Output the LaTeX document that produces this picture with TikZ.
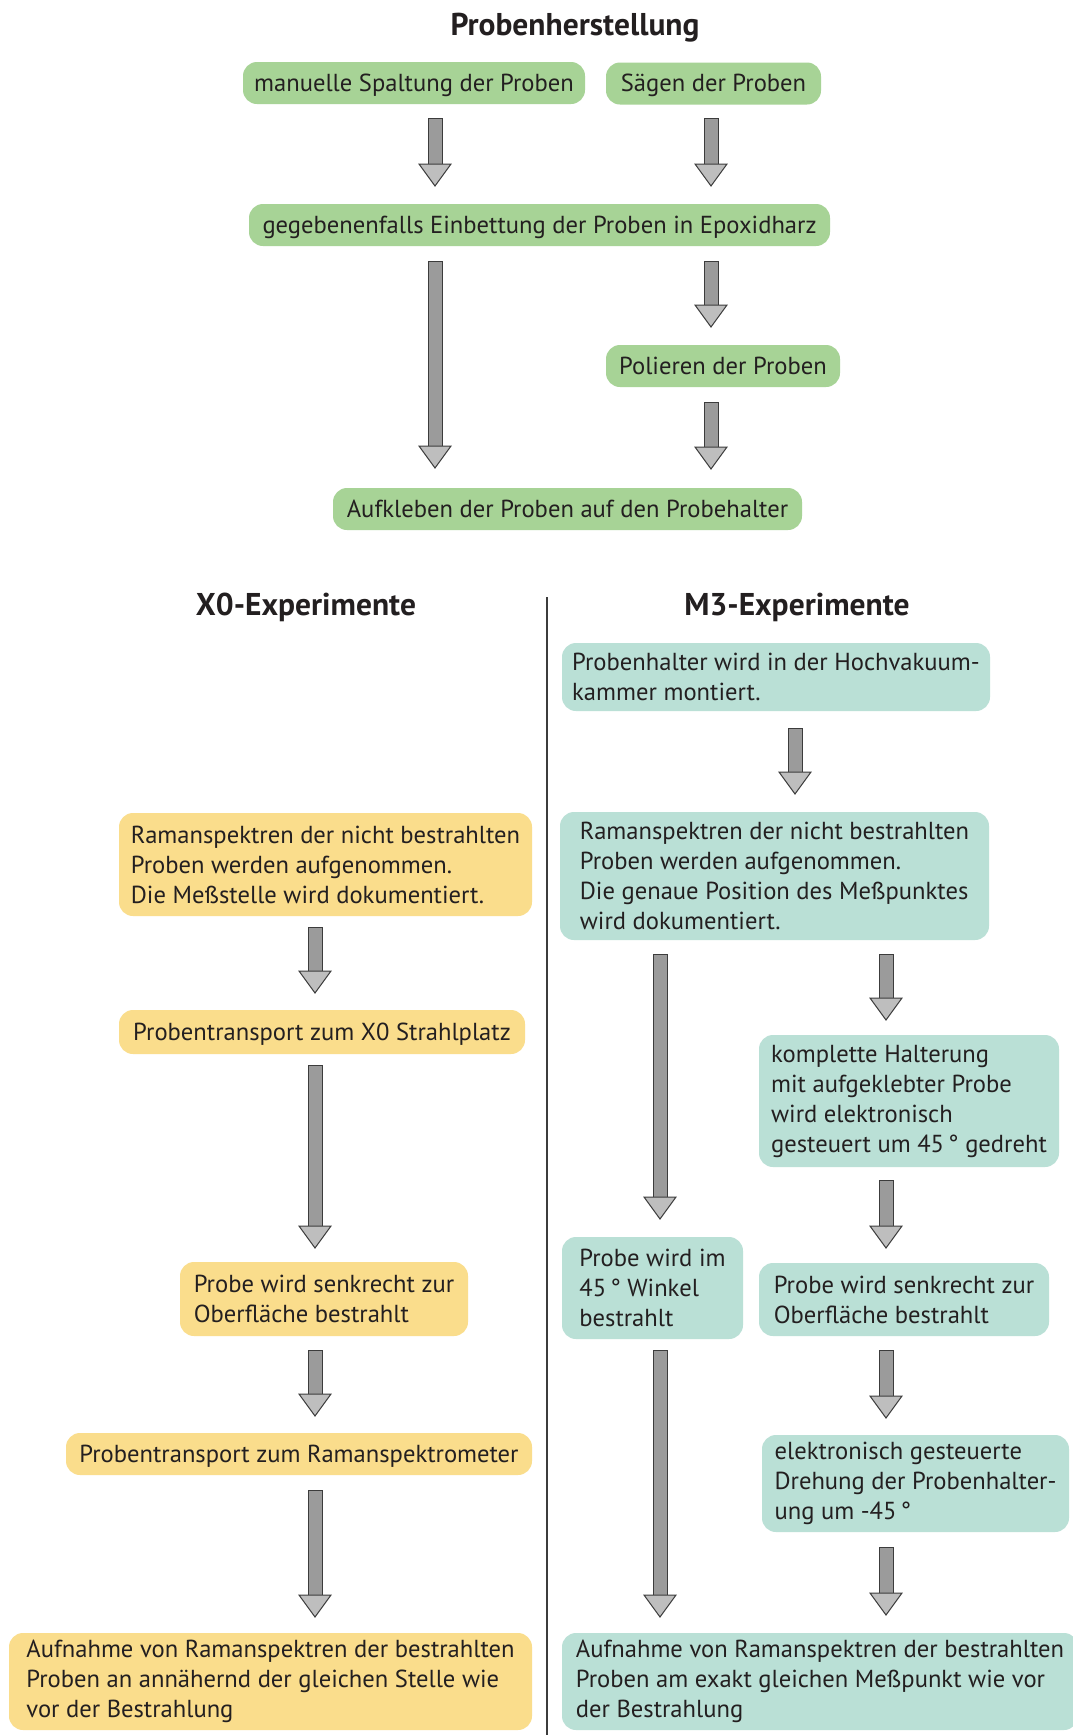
\documentclass[tikz,border=0pt]{standalone}
\usepackage{fontspec}
\setmainfont{PT Sans}
\usetikzlibrary{calc}
\definecolor{gfill}{RGB}{167,211,150}
\definecolor{yfill}{RGB}{250,221,140}
\definecolor{tfill}{RGB}{186,224,214}
\definecolor{txt}{RGB}{35,31,32}
\definecolor{arrline}{RGB}{60,60,60}
\definecolor{shaftgray}{RGB}{155,155,155}
\definecolor{headgray}{RGB}{190,190,190}
\tikzset{
  box/.style={rounded corners=14pt, inner sep=0pt, align=left, text=txt,
    font=\fontsize{24.6}{30}\selectfont},
  oneline/.style={text height=19pt, text depth=3pt},
  gbox/.style={box, oneline, fill=gfill},
  ybox/.style={box, fill=yfill},
  tbox/.style={box, fill=tfill},
  ttl/.style={text=txt, font=\fontsize{31.5}{34}\selectfont\bfseries},
  shaft/.style={draw=arrline, fill=shaftgray, line width=1pt},
  headtip/.style={draw=arrline, fill=headgray, line width=1pt, line join=miter},
}
\newcommand\fatarrow[2]{%
  \draw[shaft] let \p1=(#1), \p2=(#2) in (\x1-7pt,\y1) rectangle (\x1+7pt,\y2+21pt);
  \draw[headtip] let \p1=(#1), \p2=(#2) in (\x1-16pt,\y2+22pt) -- (\x1+16pt,\y2+22pt) -- (\x1,\y2) -- cycle;}
\begin{document}
\begin{tikzpicture}[x=1pt,y=-1pt]
\useasboundingbox[fill=white] (0,0) rectangle (1072,1735);
% titles
\node[ttl] (t0) at (575,28) {Probenherstellung};
\node[ttl] (tx) at (306,607) {X0-Experimente};
\node[ttl] (tm) at (797,607) {M3-Experimente};
\coordinate (divtop) at (547,597);
\coordinate (divbot) at (547,1735);
\draw[arrline, line width=1.3pt] (divtop) -- (divbot);
% top
\node[gbox, minimum width=342, minimum height=42] (man) at (414,83) {manuelle Spaltung der Proben};
\node[gbox, minimum width=215, minimum height=42] (saeg) at (713.5,83.5) {Sägen der Proben};
\node[gbox, minimum width=581, minimum height=42] (einb) at (539.5,225) {gegebenenfalls Einbettung der Proben in Epoxidharz};
\node[gbox, minimum width=234, minimum height=42] (pol) at (723,366) {Polieren der Proben};
\node[gbox, minimum width=469, minimum height=42] (aufk) at (567.5,509) {Aufkleben der Proben auf den Probehalter};
% left column
\node[ybox, minimum width=413, minimum height=103] (l1) at (325.5,864.5) {Ramanspektren der nicht bestrahlten\\Proben werden aufgenommen.\\Die Meßstelle wird dokumentiert.};
\node[ybox, oneline, minimum width=406, minimum height=44] (l2) at (322,1032) {Probentransport zum X0 Strahlplatz};
\node[ybox, minimum width=288, minimum height=74] (l3) at (324,1299) {Probe wird senkrecht zur\\Oberfläche bestrahlt};
\node[ybox, oneline, minimum width=466, minimum height=42] (l4) at (299,1454) {Probentransport zum Ramanspektrometer};
\node[ybox, minimum width=523, minimum height=97] (l5) at (270.5,1681.5) {Aufnahme von Ramanspektren der bestrahlten\\Proben an annähernd der gleichen Stelle wie\\vor der Bestrahlung};
% right column
\node[tbox, minimum width=428, minimum height=68] (r1) at (776,677) {Probenhalter wird in der Hochvakuum-\\kammer montiert.};
\node[tbox, minimum width=429, minimum height=128] (r2) at (774.5,876) {Ramanspektren der nicht bestrahlten\\Proben werden aufgenommen.\\Die genaue Position des Meßpunktes\\wird dokumentiert.};
\node[tbox, minimum width=300, minimum height=132] (r3) at (909,1101) {komplette Halterung\\mit aufgeklebter Probe\\wird elektronisch\\gesteuert um 45\,° gedreht};
\node[tbox, minimum width=181, minimum height=102] (r4) at (652.5,1288) {Probe wird im\\45\,° Winkel\\bestrahlt};
\node[tbox, minimum width=290, minimum height=73] (r5) at (904,1299.5) {Probe wird senkrecht zur\\Oberfläche bestrahlt};
\node[tbox, minimum width=307, minimum height=97] (r6) at (915.5,1483.5) {elektronisch gesteuerte\\Drehung der Probenhalter-\\ung um -45\,°};
\node[tbox, minimum width=516, minimum height=97] (r7) at (820,1681.5) {Aufnahme von Ramanspektren der bestrahlten\\Proben am exakt gleichen Meßpunkt wie vor\\der Bestrahlung};
% arrow end points
\coordinate (a1s) at (435,118);  \coordinate (a1e) at (435,186);
\coordinate (a2s) at (711,118);  \coordinate (a2e) at (711,186);
\coordinate (a3s) at (435,261);  \coordinate (a3e) at (435,468);
\coordinate (a4s) at (711,261);  \coordinate (a4e) at (711,327);
\coordinate (a5s) at (711,402);  \coordinate (a5e) at (711,469);
\coordinate (b1s) at (315,927);  \coordinate (b1e) at (315,993);
\coordinate (b2s) at (315,1065); \coordinate (b2e) at (315,1248);
\coordinate (b3s) at (315,1350); \coordinate (b3e) at (315,1416);
\coordinate (b4s) at (315,1490); \coordinate (b4e) at (315,1617);
\coordinate (c1s) at (795,728);  \coordinate (c1e) at (795,794);
\coordinate (c2s) at (660,954);  \coordinate (c2e) at (660,1219);
\coordinate (c3s) at (886,954);  \coordinate (c3e) at (886,1020);
\coordinate (c4s) at (886,1180); \coordinate (c4e) at (886,1248);
\coordinate (c5s) at (660,1350); \coordinate (c5e) at (660,1617);
\coordinate (c6s) at (886,1350); \coordinate (c6e) at (886,1418);
\coordinate (c7s) at (886,1547); \coordinate (c7e) at (886,1615);
\foreach \a in {a1,a2,a3,a4,a5,b1,b2,b3,b4,c1,c2,c3,c4,c5,c6,c7}{\fatarrow{\a s}{\a e}}
\end{tikzpicture}
\end{document}
